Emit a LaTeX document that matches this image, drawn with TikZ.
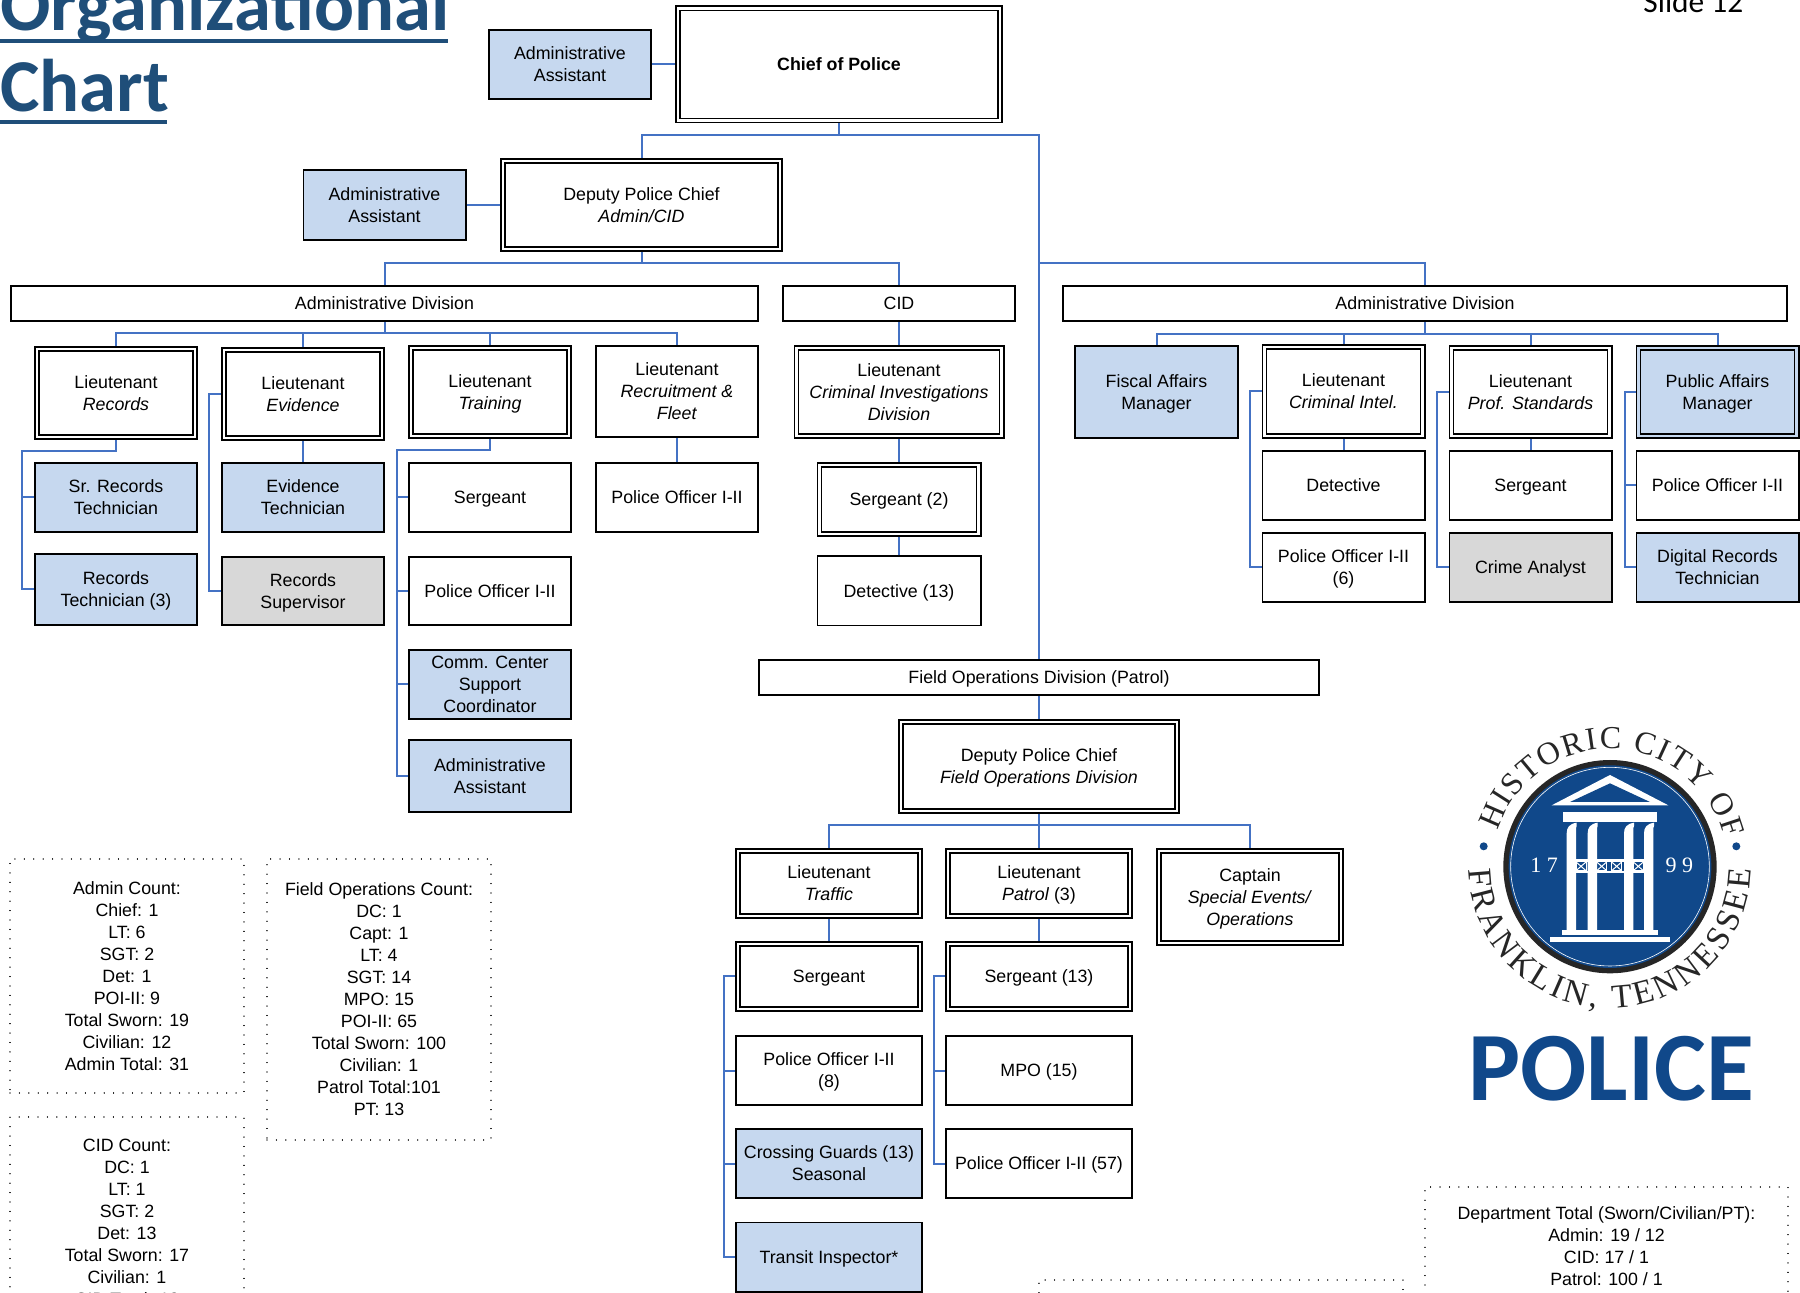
\documentclass[tikz,border=0pt]{standalone}
\usepackage{fontspec}
\usetikzlibrary{decorations.text}
\setmainfont{Liberation Sans}
\newfontfamily\carlitofont{Carlito}
\newfontfamily\sealserif{Liberation Serif}
\newcommand{\sealfont}{\sealserif\fontsize{16}{18}\selectfont\color{black!85}}
\newcommand{\sealfontlow}{\sealserif\fontsize{16.8}{18}\selectfont\color{black!85}}
\definecolor{boxblue}{HTML}{C6D8EF}
\definecolor{boxgray}{HTML}{D8D8D8}
\definecolor{linkblue}{HTML}{4472C4}
\definecolor{titleblue}{HTML}{1F4E79}
\definecolor{sealblue}{HTML}{10488A}
\tikzstyle{txt}=[font=\fontsize{8.9}{11}\selectfont, align=center, inner sep=0pt, text depth=0pt]
\tikzstyle{link}=[draw=linkblue, line width=1pt]
\tikzstyle{blue}=[fill=boxblue]
\tikzstyle{gray}=[fill=boxgray]
\tikzstyle{tally}=[txt, draw, line width=.6pt, line cap=round, dash pattern=on .01pt off 4.7pt]
\tikzset{
    unit/.style 2 args={txt, draw, line width=.8pt, minimum width=(#1-1.6)*.5pt, minimum height=(#2-1.6)*.5pt},
    boss/.style 2 args={txt, draw, line width=.85pt, double, double distance=1.2pt, outer sep=1.45pt,
        minimum width=(#1-5.8)*.5pt, minimum height=(#2-5.8)*.5pt},
    wh/.style 2 args={minimum width=#1*.5pt, minimum height=#2*.5pt},
    stem/.style={to path={(\tikztostart.north) -- (\tikztotarget.south)}},
    drop/.style={to path={(\tikztostart.north) |- (#1) -| (\tikztotarget.south)}},
    rail/.style={to path={(\tikztostart.west) -| (#1) |- (\tikztotarget.west)}},
    hook/.style={to path={(\tikztostart.west) -| (#1) -| (\tikztotarget.south)}},
    tee/.style={to path={(\tikztostart.north) |- (\tikztotarget)}},
    beside/.style={to path={(\tikztostart.east) -- (\tikztotarget.west)}}
}
\begin{document}
\begin{tikzpicture}[x=.5pt, y=-.5pt]
    \useasboundingbox (0,0) rectangle (1800,1293);
    \clip (0,0) rectangle (1800,1293);

    % title and slide number
    \node[anchor=base west, inner sep=0pt, text=titleblue, font=\carlitofont\bfseries\fontsize{37.3}{38}\selectfont] (titleA) at (0,31) {Organizational};
    \node[anchor=base west, inner sep=0pt, text=titleblue, font=\carlitofont\bfseries\fontsize{37.3}{38}\selectfont] (titleB) at (0,112) {Chart};
    \draw[titleblue, line width=2pt] (0,41.5) -- (448,41.5);
    \draw[titleblue, line width=2pt] (0,122) -- (167,122);
    \node[anchor=base west, inner sep=0pt, font=\carlitofont\fontsize{15.7}{16}\selectfont] (slideNo) at (1643,13) {Slide 12};

    % command staff
    \node[boss={328}{118}] (Chief) at (839,64.5) {\textbf{Chief of Police}};
    \node[unit={164}{71}, blue] (AsstChief) at (570,64.5) {Administrative\\Assistant}
        edge[link, beside] (Chief)
    ;
    \coordinate (barChief) at (839,135);
    \node[boss={283}{94}] (DepAdmin) at (641.5,205) {Deputy Police Chief\\\textit{Admin/CID}}
        edge[link, drop=barChief] (Chief)
    ;
    \node[unit={164}{72}, blue] (AsstDep) at (384.5,205) {Administrative\\Assistant}
        edge[link, beside] (DepAdmin)
    ;

    % divisions
    \coordinate (barDep) at (641.5,263);
    \coordinate (jctField) at (1039,263);
    \node[unit={749}{37}] (DivAdmin) at (384.5,303.5) {Administrative Division}
        edge[link, drop=barDep] (DepAdmin)
    ;
    \node[unit={234}{37}] (DivCID) at (899,303.5) {CID}
        edge[link, drop=barDep] (DepAdmin)
    ;
    \node[unit={726}{37}] (DivRight) at (1425,303.5) {Administrative Division}
        edge[link, tee] (jctField)
    ;
    \node[unit={562}{37}] (DivField) at (1039,677.5) {Field Operations Division (Patrol)}
        edge[link, drop=barChief] (Chief)
    ;

    % administrative division, left
    \coordinate (barAdmin) at (384.5,333);
    \node[boss={164}{94}] (LtRecords) at (116,393) {Lieutenant\\\textit{Records}}
        edge[link, drop=barAdmin] (DivAdmin)
    ;
    \node[boss={164}{94}] (LtEvidence) at (303,394) {Lieutenant\\\textit{Evidence}}
        edge[link, drop=barAdmin] (DivAdmin)
    ;
    \node[boss={164}{94}] (LtTraining) at (490,392) {Lieutenant\\\textit{Training}}
        edge[link, drop=barAdmin] (DivAdmin)
    ;
    \node[unit={164}{93}] (LtFleet) at (677,391.5) {Lieutenant\\\textit{Recruitment \&}\\\textit{Fleet}}
        edge[link, drop=barAdmin] (DivAdmin)
    ;
    \coordinate (hookRecords) at (22,451);
    \node[unit={164}{71}, blue] (SrRecords) at (116,497.5) {Sr. Records\\Technician}
        edge[link, hook=hookRecords] (LtRecords)
    ;
    \node[unit={164}{73}, blue] (RecordsTech) at (116,589.5) {Records\\Technician (3)}
        edge[link, hook=hookRecords] (LtRecords)
    ;
    \coordinate (sideEvidence) at (209,394);
    \node[unit={164}{71}, blue] (EvidenceTech) at (303,497.5) {Evidence\\Technician}
        edge[link, stem] (LtEvidence)
    ;
    \node[unit={164}{70}, gray] (RecordsSup) at (303,591) {Records\\Supervisor}
        edge[link, rail=sideEvidence] (LtEvidence)
    ;
    \coordinate (hookTraining) at (396.5,450);
    \node[unit={164}{71}] (SgtTraining) at (490,497.5) {Sergeant}
        edge[link, hook=hookTraining] (LtTraining)
    ;
    \node[unit={164}{70}] (PoTraining) at (490,591) {Police Officer I-II}
        edge[link, hook=hookTraining] (LtTraining)
    ;
    \node[unit={164}{71}, blue] (CommCenter) at (490,684.5) {Comm. Center\\Support\\Coordinator}
        edge[link, hook=hookTraining] (LtTraining)
    ;
    \node[unit={164}{74}, blue] (AsstTraining) at (490,776) {Administrative\\Assistant}
        edge[link, hook=hookTraining] (LtTraining)
    ;
    \node[unit={164}{71}] (PoFleet) at (677,497.5) {Police Officer I-II}
        edge[link, stem] (LtFleet)
    ;

    % CID
    \node[boss={211}{94}] (LtCID) at (899,392) {Lieutenant\\\textit{Criminal Investigations}\\\textit{Division}}
        edge[link, stem] (DivCID)
    ;
    \node[boss={165}{75}] (SgtCID) at (899,499.5) {Sergeant (2)}
        edge[link, stem] (LtCID)
    ;
    \node[unit={165}{71}] (DetCID) at (899,591) {Detective (13)}
        edge[link, stem] (SgtCID)
    ;

    % administrative division, right
    \coordinate (barRight) at (1425,334);
    \node[unit={165}{94}, blue] (Fiscal) at (1156.5,392) {Fiscal Affairs\\Manager}
        edge[link, drop=barRight] (DivRight)
    ;
    \node[boss={164}{95}] (LtIntel) at (1343.5,391.5) {Lieutenant\\\textit{Criminal Intel.}}
        edge[link, drop=barRight] (DivRight)
    ;
    \node[boss={164}{94}] (LtProf) at (1530.5,392) {Lieutenant\\\textit{Prof. Standards}}
        edge[link, drop=barRight] (DivRight)
    ;
    \node[boss={164}{94}, double=boxblue, blue] (PublicAff) at (1717.5,392) {Public Affairs\\Manager}
        edge[link, drop=barRight] (DivRight)
    ;
    \coordinate (sideIntel) at (1250,391.5);
    \coordinate (sideProf) at (1437,392);
    \coordinate (sidePublic) at (1625,392);
    \node[unit={164}{71}] (Detective) at (1343.5,485.5) {Detective}
        edge[link, stem] (LtIntel)
    ;
    \node[unit={164}{71}] (PoIntel) at (1343.5,567.5) {Police Officer I-II\\(6)}
        edge[link, rail=sideIntel] (LtIntel)
    ;
    \node[unit={164}{71}] (SgtProf) at (1530.5,485.5) {Sergeant}
        edge[link, stem] (LtProf)
    ;
    \node[unit={164}{71}, gray] (CrimeAnalyst) at (1530.5,567.5) {Crime Analyst}
        edge[link, rail=sideProf] (LtProf)
    ;
    \node[unit={164}{71}] (PoPublic) at (1717.5,485.5) {Police Officer I-II}
        edge[link, rail=sidePublic] (PublicAff)
    ;
    \node[unit={164}{71}, blue] (DigitalRec) at (1717.5,567.5) {Digital Records\\Technician}
        edge[link, rail=sidePublic] (PublicAff)
    ;

    % field operations
    \node[boss={282}{95}] (DepField) at (1039,766.5) {Deputy Police Chief\\\textit{Field Operations Division}}
        edge[link, stem] (DivField)
    ;
    \coordinate (barField) at (1039,825);
    \node[boss={188}{71}] (LtTraffic) at (829,883.5) {Lieutenant\\\textit{Traffic}}
        edge[link, drop=barField] (DepField)
    ;
    \node[boss={188}{71}] (LtPatrol) at (1039,883.5) {Lieutenant\\\textit{Patrol} (3)}
        edge[link, drop=barField] (DepField)
    ;
    \node[boss={188}{98}] (Captain) at (1250,897) {Captain\\\textit{Special Events/}\\\textit{Operations}}
        edge[link, drop=barField] (DepField)
    ;
    \coordinate (sideTraffic) at (723.5,976.5);
    \coordinate (sidePatrol) at (934,976.5);
    \node[boss={188}{71}] (SgtTraffic) at (829,976.5) {Sergeant}
        edge[link, stem] (LtTraffic)
    ;
    \node[boss={188}{71}] (SgtPatrol) at (1039,976.5) {Sergeant (13)}
        edge[link, stem] (LtPatrol)
    ;
    \node[unit={188}{71}] (PoTraffic) at (829,1070.5) {Police Officer I-II\\(8)}
        edge[link, rail=sideTraffic] (SgtTraffic)
    ;
    \node[unit={188}{71}, blue] (CrossGuard) at (829,1163.5) {Crossing Guards (13)\\Seasonal}
        edge[link, rail=sideTraffic] (SgtTraffic)
    ;
    \node[unit={188}{71}, blue] (Transit) at (829,1257) {Transit Inspector*}
        edge[link, rail=sideTraffic] (SgtTraffic)
    ;
    \node[unit={188}{71}] (Mpo) at (1039,1070.5) {MPO (15)}
        edge[link, rail=sidePatrol] (SgtPatrol)
    ;
    \node[unit={188}{71}] (PoPatrol) at (1039,1163.5) {Police Officer I-II (57)}
        edge[link, rail=sidePatrol] (SgtPatrol)
    ;

    % head counts
    \node[tally, wh={234}{234}] (cntAdmin) at (127,976) {Admin Count:\\Chief: 1\\LT: 6\\SGT: 2\\Det: 1\\POI-II: 9\\Total Sworn: 19\\Civilian: 12\\Admin Total: 31};
    \node[tally, wh={224}{281}] (cntField) at (379,999.5) {Field Operations Count:\\DC: 1\\Capt: 1\\LT: 4\\SGT: 14\\MPO: 15\\POI-II: 65\\Total Sworn: 100\\Civilian: 1\\Patrol Total:101\\PT: 13};
    \node[tally, wh={234}{210}] (cntCID) at (127,1222) {CID Count:\\DC: 1\\LT: 1\\SGT: 2\\Det: 13\\Total Sworn: 17\\Civilian: 1\\CID Total: 18};
    \node[tally, wh={363}{118}] (cntDept) at (1606.5,1246) {Department Total (Sworn/Civilian/PT):\\Admin: 19 / 12\\CID: 17 / 1\\Patrol: 100 / 1};
    \node[tally, wh={364}{60}] (cntBlank) at (1221,1310) {};

    % seal
    \begin{scope}[shift={(1420,700)}, scale=1/3]
        \fill[black!85] (570,500) circle (320);
        \fill[sealblue] (570,500) circle (304);
        \draw[white, line width=.3pt] (570,500) circle (298);
        \fill[white] (395,316) -- (570,225) -- (745,316) -- cycle;
        \fill[sealblue] (450,306) -- (570,250) -- (690,306) -- cycle;
        \fill[white] (430,335) rectangle (712,365);
        \foreach \colx in {440,503,612,672} {
            \fill[white] (\colx,690) -- (\colx,400) .. controls (\colx,382) and (\colx+8,372) .. (\colx+30,368)
                -- (\colx+30,378) .. controls (\colx+28,382) .. (\colx+28,400) -- (\colx+28,690) -- cycle;
        }
        \fill[white] (465,478) rectangle (672,486);
        \fill[white] (465,512) rectangle (672,520);
        \foreach \railx in {468,530,575,640} {
            \draw[white, line width=.5pt] (\railx,486) -- (\railx+30,512) (\railx+30,486) -- (\railx,512);
            \draw[white, line width=.5pt] (\railx,486) rectangle (\railx+30,512);
        }
        \fill[white] (425,690) rectangle (715,706);
        \fill[white] (390,710) rectangle (750,725);
        \node[text=white, font=\sealserif\fontsize{11}{11}\selectfont] (yearL) at (372,497) {1 7};
        \node[text=white, font=\sealserif\fontsize{11}{11}\selectfont] (yearR) at (778,497) {9 9};
    \end{scope}
    \begin{scope}[shift={(1610,867)}, x=.5pt, y=.5pt]
        \path[decorate, decoration={text along path, text align={fit to path}, text={|\sealfont|HISTORIC CITY OF}}]
            (162:118) arc[start angle=162, end angle=14, radius=118];
        \path[decorate, decoration={text along path, text align={fit to path}, text={|\sealfontlow|FRANKLIN, TENNESSEE}}]
            (181:141) arc[start angle=181, end angle=359, radius=141];
        \fill[sealblue] (170.7:128) circle (4);
        \fill[sealblue] (9.3:128) circle (4);
    \end{scope}
    \node[anchor=base, inner sep=0pt, text=sealblue, font=\carlitofont\bfseries\fontsize{49}{49}\selectfont] (policeWord) at (1611,1100) {POLICE};
\end{tikzpicture}
\end{document}
